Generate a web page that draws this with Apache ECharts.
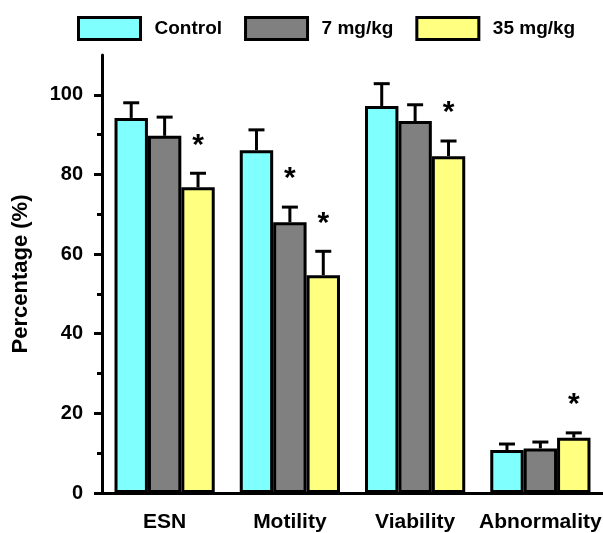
<!DOCTYPE html>
<html><head><meta charset="utf-8">
<script src="https://cdn.jsdelivr.net/npm/echarts@6/dist/echarts.min.js"></script>
<style>html,body{margin:0;padding:0;background:#fff}#c{width:603px;height:533px}</style>
</head><body><div id="c"></div>
<script>
const categories = ['ESN', 'Motility', 'Viability', 'Abnormality'];
const seriesNames = ['Control', '7 mg/kg', '35 mg/kg'];
const control = [94.2, 86.1, 97.2, 10.8];
const controlErr = [3.8, 5.1, 5.6, 1.5];
const controlSig = [0, 0, 0, 0];
const dose7 = [89.7, 68.0, 93.4, 11.2];
const dose7Err = [4.7, 3.8, 4.1, 1.6];
const dose7Sig = [0, 1, 0, 0];
const dose35 = [76.8, 54.7, 84.6, 13.9];
const dose35Err = [3.5, 6.0, 3.8, 1.2];
const dose35Sig = [1, 1, 1, 1];
const yTicks = [0, 20, 40, 60, 80, 100];
const yMinorTicks = [10, 30, 50, 70, 90];
const colors = ['#80FFFF', '#808080', '#FFFF80'];

const FONT = 'Liberation Sans, Arial, sans-serif';
const BAR_RATIO = 0.2667;
const values = [control, dose7, dose35];
const errs = [controlErr, dose7Err, dose35Err];
const sigs = [controlSig, dose7Sig, dose35Sig];

function makeRender(k) {
  return function (params, api) {
    const ci = api.value(0), v = api.value(1), e = api.value(2), s = api.value(3);
    const bandW = api.size([1, 0])[0];
    const bw = bandW * BAR_RATIO;
    const base = api.coord([ci, v]);
    const top = api.coord([ci, v + e]);
    const x = base[0] + (k - 1) * bw;
    const children = [
      {type: 'line', shape: {x1: x, y1: base[1], x2: x, y2: top[1]}, style: {stroke: '#000', lineWidth: 3}},
      {type: 'line', shape: {x1: x - 8, y1: top[1], x2: x + 8, y2: top[1]}, style: {stroke: '#000', lineWidth: 3}}
    ];
    if (s) {
      children.push({type: 'text', style: {text: '*', x: x, y: top[1] - 28, align: 'center', verticalAlign: 'middle',
        font: 'bold 30px ' + FONT, fill: '#000'}});
    }
    return {type: 'group', children: children};
  };
}

const series = [];
values.forEach(function (vals, k) {
  series.push({
    name: seriesNames[k], type: 'bar', data: vals, barWidth: (BAR_RATIO * 100) + '%', barGap: '0%',
    itemStyle: {color: colors[k], borderColor: '#000', borderWidth: 3}, silent: true
  });
});
values.forEach(function (vals, k) {
  series.push({
    type: 'custom', renderItem: makeRender(k), z: 5, silent: true,
    data: categories.map(function (c, i) { return [i, vals[i], errs[k][i], sigs[k][i]]; })
  });
});

const chart = echarts.init(document.getElementById('c'));
chart.setOption({
  animation: false,
  backgroundColor: '#fff',
  legend: {
    data: seriesNames, left: 77, top: 16, padding: 0, icon: 'rect', itemWidth: 62, itemHeight: 22, itemGap: 22,
    itemStyle: {borderColor: '#000', borderWidth: 3},
    textStyle: {fontFamily: FONT, fontWeight: 'bold', fontSize: 19, color: '#000', padding: [0, 0, 0, 9]}
  },
  grid: {left: 102, right: 0, top: 55, bottom: 40, outerBoundsMode: 'none'},
  xAxis: [
    {type: 'category', data: categories, position: 'bottom',
      axisLine: {lineStyle: {color: '#000', width: 3}},
      axisTick: {alignWithLabel: true, interval: 0, length: 9, lineStyle: {color: '#000', width: 3}},
      axisLabel: {interval: 0, color: '#000', fontFamily: FONT, fontWeight: 'bold', fontSize: 21, margin: 19}},
    {type: 'category', data: categories, position: 'bottom',
      axisLine: {show: false},
      axisTick: {alignWithLabel: false, interval: 0, length: 5, lineStyle: {color: '#000', width: 3}},
      axisLabel: {show: false}}
  ],
  yAxis: [
    {type: 'value', min: 0, max: 110, position: 'left',
      name: 'Percentage (%)', nameLocation: 'middle', nameGap: 70,
      nameTextStyle: {color: '#000', fontFamily: FONT, fontWeight: 'bold', fontSize: 22},
      axisLine: {show: true, lineStyle: {color: '#000', width: 3}},
      axisTick: {show: true, length: 8, customValues: yTicks, lineStyle: {color: '#000', width: 3}},
      axisLabel: {customValues: yTicks, color: '#000', fontFamily: FONT, fontWeight: 'bold', fontSize: 20, margin: 19},
      splitLine: {show: false}},
    {type: 'value', min: 0, max: 110, position: 'left',
      axisLine: {show: false},
      axisTick: {show: true, length: 5, customValues: yMinorTicks, lineStyle: {color: '#000', width: 3}},
      axisLabel: {show: false}, splitLine: {show: false}}
  ],
  series: series
});
</script>
</body></html>
